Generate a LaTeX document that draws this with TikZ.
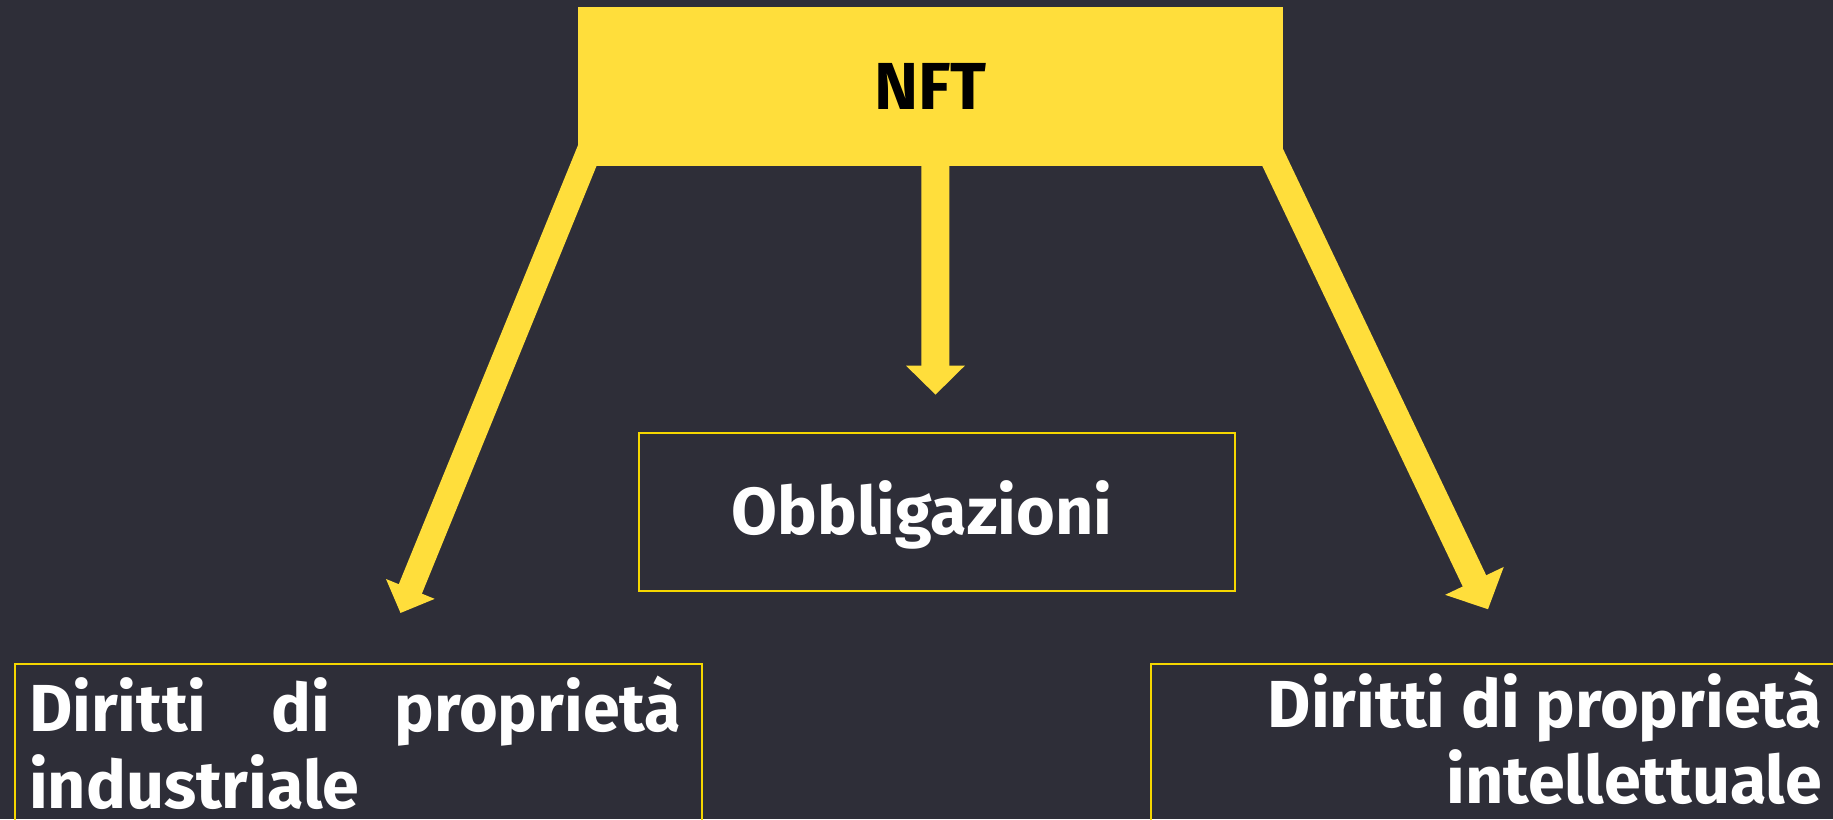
\documentclass[tikz,border=0pt]{standalone}
\usepackage{fontspec}
\setmainfont{Fira Sans}
\usetikzlibrary{arrows.meta}
\definecolor{bg}{RGB}{46,46,56}
\definecolor{ylw}{RGB}{255,222,59}
\definecolor{edgeylw}{RGB}{245,215,0}
\begin{document}
\begin{tikzpicture}[x=1pt,y=-1pt,
  lbl/.style={font=\fontsize{66.5}{77}\selectfont\bfseries, text=white, inner sep=0pt, outer sep=0pt},
  nftbox/.style={fill=ylw, draw=none, inner sep=0pt, minimum width=705pt, minimum height=159pt,
     font=\fontsize{66.5}{77}\selectfont\bfseries, text=black},
  outline/.style={draw=edgeylw, line width=2pt, inner sep=0pt, fill=none},
  conn/.style={draw=ylw, line cap=butt}
]
\useasboundingbox (0,0) rectangle (1833,819);
\clip (0,0) rectangle (1833,819);
\fill[bg] (0,0) rectangle (1833,819);

% connector end points
\coordinate (sL) at (597.7,130);
\coordinate (tL) at (400.5,613);
\coordinate (sM) at (935.2,100);
\coordinate (tM) at (935.5,394.7);
\coordinate (sR) at (1259.6,130);
\coordinate (tR) at (1488,609.3);

\draw[conn, line width=25pt, -{Triangle[width=51pt,length=26pt]}] (sL) -- (tL);
\draw[conn, line width=28pt, -{Triangle[width=57pt,length=29pt]}] (sM) -- (tM);
\draw[conn, line width=26pt, -{Triangle[width=63pt,length=31.5pt]}] (sR) -- (tR);

% NFT box
\node[nftbox] (nft) at (930.5,86.5) {NFT};

% target boxes
\node[outline, minimum width=596pt, minimum height=158pt] (obl) at (936.7,511.7) {};
\node[lbl, anchor=base] (obltxt) at (922,534) {Obbligazioni};

\node[outline, anchor=north west, minimum width=687pt, minimum height=260pt] (ind) at (14,663) {};
\node[lbl, anchor=base west] (ind1) at (29,731) {\makebox[652pt][s]{Diritti di proprietà}};
\node[lbl, anchor=base west, text depth=0pt] (ind2) at (29,808) {industriale};

\node[outline, anchor=north west, minimum width=760pt, minimum height=260pt] (int) at (1150,663) {};
\node[lbl, anchor=base east] (int1) at (1822,727) {Diritti di proprietà};
\node[lbl, anchor=base east, text depth=0pt] (int2) at (1822,803.5) {intellettuale};
\end{tikzpicture}
\end{document}
